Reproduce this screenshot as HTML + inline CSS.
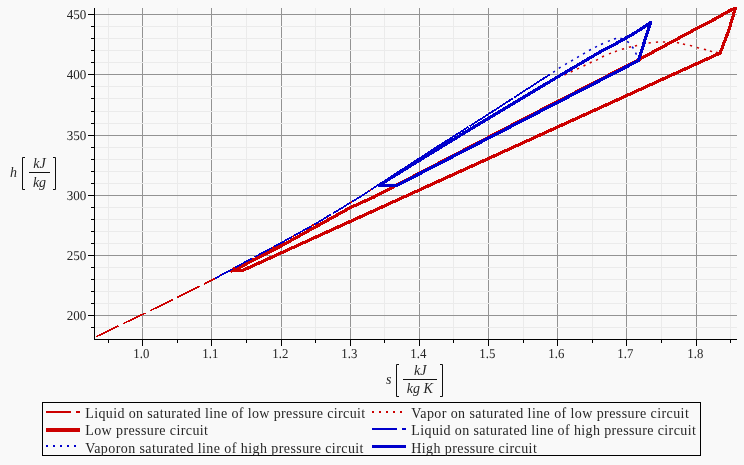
<!DOCTYPE html>
<html><head><meta charset="utf-8"><title>h-s diagram</title>
<style>html,body{margin:0;padding:0;background:#f9f9f9;}svg{display:block;will-change:transform}text{font-family:"Liberation Serif","Times New Roman",serif;fill:#262626}.t{font-size:13.5px;text-rendering:geometricPrecision}.m{font-size:14px;font-style:italic}.lg{font-size:14px}</style></head><body>
<svg width="744" height="465" viewBox="0 0 744 465">
<rect x="0" y="0" width="744" height="465" fill="#f9f9f9"/>
<g stroke-width="1" shape-rendering="crispEdges">
<line x1="108.5" y1="8.0" x2="108.5" y2="339.5" stroke="#ebebeb"/>
<line x1="177.5" y1="8.0" x2="177.5" y2="339.5" stroke="#ebebeb"/>
<line x1="246.5" y1="8.0" x2="246.5" y2="339.5" stroke="#ebebeb"/>
<line x1="315.5" y1="8.0" x2="315.5" y2="339.5" stroke="#ebebeb"/>
<line x1="384.5" y1="8.0" x2="384.5" y2="339.5" stroke="#ebebeb"/>
<line x1="453.5" y1="8.0" x2="453.5" y2="339.5" stroke="#ebebeb"/>
<line x1="523.5" y1="8.0" x2="523.5" y2="339.5" stroke="#ebebeb"/>
<line x1="592.5" y1="8.0" x2="592.5" y2="339.5" stroke="#ebebeb"/>
<line x1="661.5" y1="8.0" x2="661.5" y2="339.5" stroke="#ebebeb"/>
<line x1="730.5" y1="8.0" x2="730.5" y2="339.5" stroke="#ebebeb"/>
<line x1="142.5" y1="8.0" x2="142.5" y2="339.5" stroke="#939393"/>
<line x1="211.5" y1="8.0" x2="211.5" y2="339.5" stroke="#939393"/>
<line x1="281.5" y1="8.0" x2="281.5" y2="339.5" stroke="#939393"/>
<line x1="350.5" y1="8.0" x2="350.5" y2="339.5" stroke="#939393"/>
<line x1="419.5" y1="8.0" x2="419.5" y2="339.5" stroke="#939393"/>
<line x1="488.5" y1="8.0" x2="488.5" y2="339.5" stroke="#939393"/>
<line x1="557.5" y1="8.0" x2="557.5" y2="339.5" stroke="#939393"/>
<line x1="626.5" y1="8.0" x2="626.5" y2="339.5" stroke="#939393"/>
<line x1="696.5" y1="8.0" x2="696.5" y2="339.5" stroke="#939393"/>
<line x1="94.5" y1="327.5" x2="737.0" y2="327.5" stroke="#ebebeb"/>
<line x1="94.5" y1="303.5" x2="737.0" y2="303.5" stroke="#ebebeb"/>
<line x1="94.5" y1="291.5" x2="737.0" y2="291.5" stroke="#ebebeb"/>
<line x1="94.5" y1="279.5" x2="737.0" y2="279.5" stroke="#ebebeb"/>
<line x1="94.5" y1="267.5" x2="737.0" y2="267.5" stroke="#ebebeb"/>
<line x1="94.5" y1="243.5" x2="737.0" y2="243.5" stroke="#ebebeb"/>
<line x1="94.5" y1="231.5" x2="737.0" y2="231.5" stroke="#ebebeb"/>
<line x1="94.5" y1="219.5" x2="737.0" y2="219.5" stroke="#ebebeb"/>
<line x1="94.5" y1="207.5" x2="737.0" y2="207.5" stroke="#ebebeb"/>
<line x1="94.5" y1="183.5" x2="737.0" y2="183.5" stroke="#ebebeb"/>
<line x1="94.5" y1="171.5" x2="737.0" y2="171.5" stroke="#ebebeb"/>
<line x1="94.5" y1="159.5" x2="737.0" y2="159.5" stroke="#ebebeb"/>
<line x1="94.5" y1="147.5" x2="737.0" y2="147.5" stroke="#ebebeb"/>
<line x1="94.5" y1="123.5" x2="737.0" y2="123.5" stroke="#ebebeb"/>
<line x1="94.5" y1="111.5" x2="737.0" y2="111.5" stroke="#ebebeb"/>
<line x1="94.5" y1="98.5" x2="737.0" y2="98.5" stroke="#ebebeb"/>
<line x1="94.5" y1="86.5" x2="737.0" y2="86.5" stroke="#ebebeb"/>
<line x1="94.5" y1="62.5" x2="737.0" y2="62.5" stroke="#ebebeb"/>
<line x1="94.5" y1="50.5" x2="737.0" y2="50.5" stroke="#ebebeb"/>
<line x1="94.5" y1="38.5" x2="737.0" y2="38.5" stroke="#ebebeb"/>
<line x1="94.5" y1="26.5" x2="737.0" y2="26.5" stroke="#ebebeb"/>
<line x1="94.5" y1="315.5" x2="737.0" y2="315.5" stroke="#939393"/>
<line x1="94.5" y1="255.5" x2="737.0" y2="255.5" stroke="#939393"/>
<line x1="94.5" y1="195.5" x2="737.0" y2="195.5" stroke="#939393"/>
<line x1="94.5" y1="135.5" x2="737.0" y2="135.5" stroke="#939393"/>
<line x1="94.5" y1="74.5" x2="737.0" y2="74.5" stroke="#939393"/>
<line x1="94.5" y1="14.5" x2="737.0" y2="14.5" stroke="#939393"/>
</g>
<path d="M96.1,336.7 L101.3,334.2 L106.4,331.7 L111.6,329.2 L116.7,326.8 L121.9,324.3 L127.0,321.8 L132.2,319.4 L137.3,316.9 L142.5,314.5 L147.6,311.9 L152.8,309.4 L157.9,306.9 L163.1,304.4 L168.2,301.9 L173.4,299.3 L178.5,296.8 L183.7,294.3 L188.8,291.7 L194.0,289.2 L199.1,286.6 L204.3,284.0 L209.4,281.5 L214.6,278.7 L219.7,275.9 L224.9,273.1 L230.0,270.3 L235.2,267.5 L240.3,264.7 L245.5,261.9 L250.6,259.2 L255.8,256.4 L260.9,253.7 L266.1,250.9 L271.2,248.2 L276.4,245.4 L281.5,242.6 L286.7,239.8 L291.8,236.9 L297.0,234.0 L302.1,231.2 L307.3,228.3 L312.4,225.5 L317.6,222.5 L322.7,219.4 L327.9,216.3 L333.0,213.2 L338.2,210.2 L343.3,207.1 L348.5,203.8 L353.6,200.7 L358.8,197.7 L363.9,194.4 L369.1,191.0 L374.2,187.6 L379.4,184.2 L384.5,180.9 L389.7,177.5 L394.8,174.2 L400.0,170.9" fill="none" stroke="#cc0000" stroke-width="1.7" stroke-dasharray="25 5" shape-rendering="crispEdges"/>
<path d="M564.4,75.0 L566.4,74.0 M570.7,72.0 L572.7,71.0 M577.0,69.2 L579.0,68.2 M583.5,66.0 L585.5,65.0 M589.7,63.0 L591.7,62.0 M596.0,60.3 L598.0,59.3 M602.0,57.0 L604.0,56.0 M609.0,53.9 L611.0,53.1 M615.0,51.7 L617.0,50.9 M621.9,49.3 L624.1,48.7 M628.9,47.3 L631.1,46.7 M634.9,45.9 L637.1,45.5 M641.9,44.2 L644.1,43.8 M648.6,42.9 L650.8,42.7 M655.9,42.3 L658.1,42.1 M662.9,42.0 L665.1,42.0 M669.9,42.1 L672.1,42.3 M676.9,42.6 L679.1,43.0 M682.9,44.1 L685.1,44.5 M689.9,45.4 L692.1,46.0 M696.9,47.5 L699.1,48.1 M703.9,49.2 L706.1,49.8 M709.9,51.0 L712.1,51.6 M715.9,52.3 L718.1,52.7" fill="none" stroke="#cc0000" stroke-width="1.5"/>
<path d="M232.8,270.6 L242.5,270.5 L720.2,53 L728.9,30 L735.3,8.4 L730.3,10.3 L716.9,18.0 L696.7,28.5 L638.8,59.7 L524.0,118.8 L397.0,184.9 L374.0,197.0 L350.4,207.6 L315.5,226.9 L281.5,245.8 L263.8,254.6 L246.6,263.7 L232.0,271.0 Z" fill="none" stroke="#cc0000" stroke-width="3.2" stroke-linejoin="round" shape-rendering="crispEdges"/>
<path d="M215.0,278.5 L220.7,275.4 L226.4,272.3 L232.1,269.2 L237.8,266.1 L243.4,263.0 L249.1,260.0 L254.8,256.9 L260.5,253.9 L266.2,250.8 L271.9,247.8 L277.6,244.7 L283.3,241.7 L289.0,238.5 L294.7,235.3 L300.3,232.2 L306.0,229.0 L311.7,225.9 L317.4,222.6 L323.1,219.2 L328.8,215.7 L334.5,212.4 L340.2,209.0 L345.9,205.5 L351.6,201.9 L357.2,198.6 L362.9,195.1 L368.6,191.3 L374.3,187.5 L380.0,183.8" fill="none" stroke="#0000cc" stroke-width="1.7" stroke-dasharray="20 2.5" shape-rendering="crispEdges"/>
<path d="M380.0,183.8 L385.9,180.0 L391.7,176.2 L397.6,172.4 L403.4,168.6 L409.3,164.8 L415.2,161.0 L421.0,157.2 L426.9,153.3 L432.7,149.5 L438.6,145.8 L444.4,142.1 L450.3,138.4 L456.2,134.7 L462.0,130.9 L467.9,127.2 L473.7,123.5 L479.6,119.8 L485.5,116.0 L491.3,112.3 L497.2,108.5 L503.0,104.7 L508.9,100.9 L514.7,97.1 L520.6,93.3 L526.5,89.5 L532.3,85.7 L538.2,81.9 L544.0,78.2 L549.9,74.6" fill="none" stroke="#0000cc" stroke-width="1.7" stroke-dasharray="52 1.2" shape-rendering="crispEdges"/>
<path d="M553.1,72.3 L554.9,71.1 M558.8,68.4 L560.6,67.2 M565.1,64.6 L566.9,63.4 M571.0,61.2 L573.0,60.0 M577.1,57.6 L578.9,56.4 M583.0,54.1 L585.0,52.9 M589.0,50.5 L591.0,49.5 M595.0,47.3 L597.0,46.3 M601.0,44.5 L603.0,43.5 M607.9,41.4 L609.9,40.6 M613.9,38.9 L616.1,38.5 M620.4,38.3 L622.6,38.9 M627.1,41.3 L628.9,42.7 M632.2,46.7 L633.4,48.5 M635.5,52.7 L636.5,54.7" fill="none" stroke="#0000cc" stroke-width="1.5"/>
<path d="M397,185.4 L638.4,60.6 L650.5,22.7 L643.5,27.4 L636.6,31.8 L629.6,36.0 L622.6,40.0 L615.7,43.7 L608.7,47.4 L601.7,51.1 L594.7,55.1 L587.8,59.2 L580.8,63.3 L573.8,67.4 L566.9,71.5 L559.9,75.6 L552.9,79.8 L546.0,83.9 L539.0,88.0 L532.0,92.2 L525.1,96.3 L518.1,100.5 L511.1,104.7 L504.1,108.9 L497.2,113.1 L490.2,117.3 L483.2,121.5 L476.3,125.7 L469.3,129.9 L462.3,134.1 L455.4,138.4 L448.4,142.6 L441.4,146.9 L434.5,151.1 L427.5,155.4 L420.5,159.7 L413.5,164.0 L406.6,168.3 L399.6,172.6 L392.6,176.9 L385.7,181.2 L378.7,185.5 L397,185.4 Z" fill="none" stroke="#0000cc" stroke-width="3.2" stroke-linejoin="round" shape-rendering="crispEdges"/>
<g stroke="#000" stroke-width="1" shape-rendering="crispEdges">
<line x1="94.5" y1="8.0" x2="94.5" y2="340"/>
<line x1="94" y1="339.5" x2="737.0" y2="339.5"/>
<line x1="91" y1="327.5" x2="94" y2="327.5"/>
<line x1="88" y1="315.5" x2="94" y2="315.5"/>
<line x1="91" y1="303.5" x2="94" y2="303.5"/>
<line x1="91" y1="291.5" x2="94" y2="291.5"/>
<line x1="91" y1="279.5" x2="94" y2="279.5"/>
<line x1="91" y1="267.5" x2="94" y2="267.5"/>
<line x1="88" y1="255.5" x2="94" y2="255.5"/>
<line x1="91" y1="243.5" x2="94" y2="243.5"/>
<line x1="91" y1="231.5" x2="94" y2="231.5"/>
<line x1="91" y1="219.5" x2="94" y2="219.5"/>
<line x1="91" y1="207.5" x2="94" y2="207.5"/>
<line x1="88" y1="195.5" x2="94" y2="195.5"/>
<line x1="91" y1="183.5" x2="94" y2="183.5"/>
<line x1="91" y1="171.5" x2="94" y2="171.5"/>
<line x1="91" y1="159.5" x2="94" y2="159.5"/>
<line x1="91" y1="147.5" x2="94" y2="147.5"/>
<line x1="88" y1="135.5" x2="94" y2="135.5"/>
<line x1="91" y1="123.5" x2="94" y2="123.5"/>
<line x1="91" y1="111.5" x2="94" y2="111.5"/>
<line x1="91" y1="98.5" x2="94" y2="98.5"/>
<line x1="91" y1="86.5" x2="94" y2="86.5"/>
<line x1="88" y1="74.5" x2="94" y2="74.5"/>
<line x1="91" y1="62.5" x2="94" y2="62.5"/>
<line x1="91" y1="50.5" x2="94" y2="50.5"/>
<line x1="91" y1="38.5" x2="94" y2="38.5"/>
<line x1="91" y1="26.5" x2="94" y2="26.5"/>
<line x1="88" y1="14.5" x2="94" y2="14.5"/>
<line x1="108.5" y1="340" x2="108.5" y2="343"/>
<line x1="142.5" y1="340" x2="142.5" y2="346"/>
<line x1="177.5" y1="340" x2="177.5" y2="343"/>
<line x1="211.5" y1="340" x2="211.5" y2="346"/>
<line x1="246.5" y1="340" x2="246.5" y2="343"/>
<line x1="281.5" y1="340" x2="281.5" y2="346"/>
<line x1="315.5" y1="340" x2="315.5" y2="343"/>
<line x1="350.5" y1="340" x2="350.5" y2="346"/>
<line x1="384.5" y1="340" x2="384.5" y2="343"/>
<line x1="419.5" y1="340" x2="419.5" y2="346"/>
<line x1="453.5" y1="340" x2="453.5" y2="343"/>
<line x1="488.5" y1="340" x2="488.5" y2="346"/>
<line x1="523.5" y1="340" x2="523.5" y2="343"/>
<line x1="557.5" y1="340" x2="557.5" y2="346"/>
<line x1="592.5" y1="340" x2="592.5" y2="343"/>
<line x1="626.5" y1="340" x2="626.5" y2="346"/>
<line x1="661.5" y1="340" x2="661.5" y2="343"/>
<line x1="696.5" y1="340" x2="696.5" y2="346"/>
<line x1="730.5" y1="340" x2="730.5" y2="343"/>
</g>
<text class="t" x="86.3" y="320.1" text-anchor="end" textLength="19.6" lengthAdjust="spacingAndGlyphs">200</text>
<text class="t" x="86.3" y="260.1" text-anchor="end" textLength="19.6" lengthAdjust="spacingAndGlyphs">250</text>
<text class="t" x="86.3" y="200.1" text-anchor="end" textLength="19.6" lengthAdjust="spacingAndGlyphs">300</text>
<text class="t" x="86.3" y="140.1" text-anchor="end" textLength="19.6" lengthAdjust="spacingAndGlyphs">350</text>
<text class="t" x="86.3" y="79.1" text-anchor="end" textLength="19.6" lengthAdjust="spacingAndGlyphs">400</text>
<text class="t" x="86.3" y="19.1" text-anchor="end" textLength="19.6" lengthAdjust="spacingAndGlyphs">450</text>
<text class="t" x="141.3" y="358.1" text-anchor="middle" textLength="16" lengthAdjust="spacingAndGlyphs">1.0</text>
<text class="t" x="210.3" y="358.1" text-anchor="middle" textLength="16" lengthAdjust="spacingAndGlyphs">1.1</text>
<text class="t" x="280.3" y="358.1" text-anchor="middle" textLength="16" lengthAdjust="spacingAndGlyphs">1.2</text>
<text class="t" x="349.3" y="358.1" text-anchor="middle" textLength="16" lengthAdjust="spacingAndGlyphs">1.3</text>
<text class="t" x="418.3" y="358.1" text-anchor="middle" textLength="16" lengthAdjust="spacingAndGlyphs">1.4</text>
<text class="t" x="487.3" y="358.1" text-anchor="middle" textLength="16" lengthAdjust="spacingAndGlyphs">1.5</text>
<text class="t" x="556.3" y="358.1" text-anchor="middle" textLength="16" lengthAdjust="spacingAndGlyphs">1.6</text>
<text class="t" x="625.3" y="358.1" text-anchor="middle" textLength="16" lengthAdjust="spacingAndGlyphs">1.7</text>
<text class="t" x="695.3" y="358.1" text-anchor="middle" textLength="16" lengthAdjust="spacingAndGlyphs">1.8</text>
<text class="m" x="10" y="176.5">h</text>
<path d="M25,157.5 H22.5 V189.5 H25 M53,157.5 H55.5 V189.5 H53" fill="none" stroke="#111" stroke-width="1"/>
<line x1="29" y1="172.5" x2="50" y2="172.5" stroke="#111" stroke-width="1"/>
<text class="m" x="39.5" y="168" text-anchor="middle">kJ</text>
<text class="m" x="39.5" y="186.8" text-anchor="middle">kg</text>
<text class="m" x="386" y="383.5">s</text>
<path d="M399,364.5 H396.5 V396.5 H399 M440,364.5 H442.5 V396.5 H440" fill="none" stroke="#111" stroke-width="1"/>
<line x1="403" y1="379.5" x2="437" y2="379.5" stroke="#111" stroke-width="1"/>
<text class="m" x="420.3" y="375" text-anchor="middle">kJ</text>
<text class="m" x="419.8" y="393.3" text-anchor="middle">kg K</text>
<rect x="42.5" y="402.5" width="658" height="53" fill="none" stroke="#000" stroke-width="1" shape-rendering="crispEdges"/>
<g fill="#cc0000" shape-rendering="crispEdges"><rect x="46" y="411" width="25" height="2"/><rect x="76" y="411" width="4" height="2"/><rect x="46" y="428" width="34" height="3.8"/><rect x="372" y="411" width="2" height="2"/><rect x="379" y="411" width="2" height="2"/><rect x="386" y="411" width="2" height="2"/><rect x="393" y="411" width="2" height="2"/><rect x="400" y="411" width="2" height="2"/></g>
<g fill="#0000cc" shape-rendering="crispEdges"><rect x="372" y="428" width="25" height="2"/><rect x="402" y="428" width="4" height="2"/><rect x="372" y="444.6" width="34" height="3.8"/><rect x="46" y="445" width="2" height="2"/><rect x="53" y="445" width="2" height="2"/><rect x="60" y="445" width="2" height="2"/><rect x="67" y="445" width="2" height="2"/><rect x="74" y="445" width="2" height="2"/></g>
<text class="lg" x="85.2" y="418.0" textLength="280" lengthAdjust="spacing">Liquid on saturated line of low pressure circuit</text>
<text class="lg" x="85.2" y="435.4" textLength="122.8" lengthAdjust="spacing">Low pressure circuit</text>
<text class="lg" x="85.2" y="452.7" textLength="278.3" lengthAdjust="spacing">Vaporon saturated line of high pressure circuit</text>
<text class="lg" x="411.3" y="418.0" textLength="277.5" lengthAdjust="spacing">Vapor on saturated line of low pressure circuit</text>
<text class="lg" x="411.3" y="435.4" textLength="284.5" lengthAdjust="spacing">Liquid on saturated line of high pressure circuit</text>
<text class="lg" x="411.3" y="452.7" textLength="125.5" lengthAdjust="spacing">High pressure circuit</text>
</svg></body></html>
